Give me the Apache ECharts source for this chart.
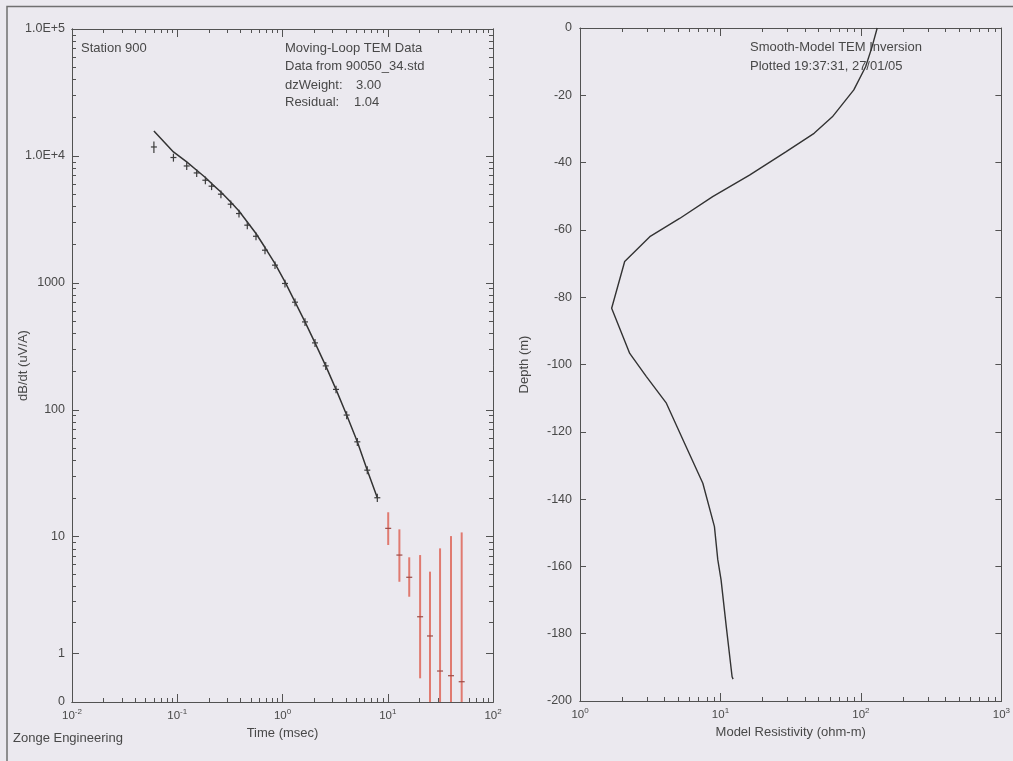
<!DOCTYPE html>
<html>
<head>
<meta charset="utf-8">
<title>Station 900 - TEM data and smooth-model inversion</title>
<script src="https://cdn.jsdelivr.net/npm/echarts@6/dist/echarts.min.js"></script>
<style>
  html, body { margin: 0; padding: 0; background: #ebe9ef; }
  #main { width: 1013px; height: 761px; }
</style>
</head>
<body>
<div id="main"></div>
<script>
// gate times (msec) of the good (black) readings
var obsTime = [0.060, 0.092, 0.123, 0.153, 0.185, 0.212, 0.260, 0.322, 0.386, 0.463, 0.560, 0.682,
               0.849, 1.056, 1.315, 1.636, 2.037, 2.575, 3.224, 4.07, 5.14, 6.39, 7.96];
// observed dB/dt (uV/A) and its error half-width
var obsVal = [11770, 9720, 8340, 7350, 6440, 5780, 5000, 4170, 3520, 2850, 2330, 1810,
              1380, 990, 705, 493, 337, 222, 145, 91, 56, 33.5, 20.3];
var obsErr = [1200, 700, 600, 520, 450, 400, 350, 290, 250, 200, 160, 125,
              95, 70, 50, 35, 24, 16, 10, 6.5, 4, 2.4, 1.5];
// forward response of the model at the same gates
var modelVal = [15730, 10750, 8970, 7720, 6760, 6060, 5200, 4340, 3690, 3020, 2450, 1900,
                1420, 1020, 709, 493, 337, 222, 145, 91, 56, 33.5, 20.3];

// late gates, masked (red)
var badTime = [10.1, 12.9, 16.0, 20.3, 25.2, 31.4, 39.9, 50.4];
var badVal  = [11.64, 7.15, 4.75, 2.24, 1.505, 0.592, 0.495, 0.376];
var badHi   = [15.6, 11.43, 6.86, 7.15, 5.27, 8.08, 10.11, 10.81];
var badLo   = [8.59, 4.37, 3.30, 0.443, 0, 0, 0, 0];

// smooth model: resistivity (ohm-m) vs depth (m)
var modelRes   = [130.6, 120, 108, 89, 62.6, 46.4, 29.2, 16.1, 8.8, 5.12, 3.14, 2.08, 1.68,
                  2.26, 2.97, 4.12, 5.55, 7.49, 9.06, 9.57, 10.1, 11.0, 12.1, 12.3];
var modelDepth = [0, -5.6, -11.5, -18.4, -26.4, -31.3, -36.8, -43.7, -50.1, -56.6, -62.0, -69.4, -83.3,
                  -96.7, -103.6, -111.5, -123.4, -135.3, -148.2, -158, -164, -177.9, -192.8, -193.5];

// amplitude axis ticks (the plot uses a sinh-like axis that reaches 0)
var ampTicks    = [0, 1, 10, 100, 1000, 10000, 100000];
var ampTickText = ['0', '1', '10', '100', '1000', '1.0E+4', '1.0E+5'];

var AX = '#525252';
var TXT = '#484848';
var FONT = 'Liberation Sans';
var NOTE = '13px ' + FONT;

function minorLog(fromExp, toExp) {
  var out = [];
  for (var e = fromExp; e < toExp; e++)
    for (var m = 2; m <= 9; m++) out.push(m * Math.pow(10, e));
  return out;
}
function decades(fromExp, toExp) {
  var out = [];
  for (var e = fromExp; e <= toExp; e++) out.push(Math.pow(10, e));
  return out;
}
function powLabel(v) {
  return '{b|10}{s|' + Math.round(Math.log10(v)) + '}';
}
var sup = {
  b: { fontSize: 11.5, lineHeight: 16, color: TXT, fontFamily: FONT },
  s: { fontSize: 8, lineHeight: 9, verticalAlign: 'top', color: TXT, fontFamily: FONT }
};

function logX(grid, pos, min, max, ticks, len, withLabels, name) {
  return {
    type: 'log', gridIndex: grid, position: pos, min: min, max: max,
    axisLine: { show: true, onZero: false, lineStyle: { color: AX, width: 1 } },
    axisTick: { show: true, inside: true, length: len, customValues: ticks.vals, lineStyle: { color: AX } },
    axisLabel: withLabels ? { show: true, margin: 6, customValues: ticks.vals, formatter: powLabel, rich: sup } : { show: false },
    splitLine: { show: false }, minorTick: { show: false },
    name: name || '', nameLocation: 'middle', nameGap: 25, nameMoveOverlap: false,
    nameTextStyle: { color: TXT, fontSize: 13, fontFamily: FONT }
  };
}

var ampMajor = ampTicks.map(function (v) { return Math.asinh(v); });
var ampMinor = minorLog(0, 5).map(function (v) { return Math.asinh(v); });
function ampLabel(val) {
  for (var i = 0; i < ampMajor.length; i++) if (Math.abs(ampMajor[i] - val) < 1e-6) return ampTickText[i];
  return '';
}
function ampY(pos, vals, len, withLabels, name) {
  return {
    type: 'value', gridIndex: 0, position: pos, min: 0, max: Math.asinh(100000),
    axisLine: { show: true, onZero: false, lineStyle: { color: AX, width: 1 } },
    axisTick: { show: true, inside: true, length: len, customValues: vals, lineStyle: { color: AX } },
    axisLabel: withLabels ? { show: true, margin: 7, customValues: ampMajor, formatter: ampLabel,
                              color: TXT, fontSize: 12.5, fontFamily: FONT } : { show: false },
    splitLine: { show: false },
    name: name || '', nameLocation: 'middle', nameGap: 42, nameMoveOverlap: false,
    nameTextStyle: { color: TXT, fontSize: 13, fontFamily: FONT }
  };
}

function errorBars(color, tickColor, width) {
  return function (params, api) {
    var t = api.value(0);
    var c = api.coord([t, api.value(1)]);
    var hi = api.coord([t, api.value(2)]);
    var lo = api.coord([t, api.value(3)]);
    return {
      type: 'group',
      children: [
        { type: 'line', shape: { x1: c[0], y1: hi[1], x2: c[0], y2: lo[1] },
          style: { stroke: color, lineWidth: width } },
        { type: 'line', shape: { x1: c[0] - 3, y1: c[1], x2: c[0] + 3, y2: c[1] },
          style: { stroke: tickColor, lineWidth: 1.2 } }
      ]
    };
  };
}

var obsData = obsTime.map(function (t, i) {
  return [t, Math.asinh(obsVal[i]), Math.asinh(obsVal[i] + obsErr[i]), Math.asinh(obsVal[i] - obsErr[i])];
});
var badData = badTime.map(function (t, i) {
  return [t, Math.asinh(badVal[i]), Math.asinh(badHi[i]), Math.asinh(badLo[i])];
});
var fitData = obsTime.map(function (t, i) { return [t, Math.asinh(modelVal[i])]; });
var profile = modelRes.map(function (r, i) { return [r, modelDepth[i]]; });

var xMajL = { vals: decades(-2, 2) }, xMinL = { vals: minorLog(-2, 2) };
var xMajR = { vals: decades(0, 3) },  xMinR = { vals: minorLog(0, 3) };

var chart = echarts.init(document.getElementById('main'));
chart.setOption({
  backgroundColor: '#ebe9ef',
  animation: false,
  textStyle: { fontFamily: FONT },
  grid: [
    { left: 72, top: 29, width: 421, height: 673 },
    { left: 580, top: 28, width: 423, height: 673 }
  ],
  xAxis: [
    logX(0, 'bottom', 0.01, 100, xMajL, 8, true, 'Time (msec)'),
    logX(0, 'bottom', 0.01, 100, xMinL, 4, false),
    logX(0, 'top', 0.01, 100, xMajL, 8, false),
    logX(0, 'top', 0.01, 100, xMinL, 4, false),
    logX(1, 'bottom', 1, 1000, xMajR, 8, true, 'Model Resistivity (ohm-m)'),
    logX(1, 'bottom', 1, 1000, xMinR, 4, false),
    logX(1, 'top', 1, 1000, xMajR, 8, false),
    logX(1, 'top', 1, 1000, xMinR, 4, false)
  ],
  yAxis: [
    ampY('left', ampMajor, 7, true, 'dB/dt (uV/A)'),
    ampY('left', ampMinor, 4, false),
    ampY('right', ampMajor, 7, false),
    ampY('right', ampMinor, 4, false),
    {
      type: 'value', gridIndex: 1, position: 'left', min: -200, max: 0, interval: 20,
      axisLine: { show: true, onZero: false, lineStyle: { color: AX } },
      axisTick: { show: true, inside: true, length: 6, lineStyle: { color: AX } },
      axisLabel: { margin: 8, color: TXT, fontSize: 12.5, fontFamily: FONT },
      splitLine: { show: false },
      name: 'Depth (m)', nameLocation: 'middle', nameGap: 49, nameMoveOverlap: false,
      nameTextStyle: { color: TXT, fontSize: 13, fontFamily: FONT }
    },
    {
      type: 'value', gridIndex: 1, position: 'right', min: -200, max: 0, interval: 20,
      axisLine: { show: true, onZero: false, lineStyle: { color: AX } },
      axisTick: { show: true, inside: true, length: 6, lineStyle: { color: AX } },
      axisLabel: { show: false }, splitLine: { show: false }
    }
  ],
  series: [
    { name: 'model response', type: 'line', xAxisIndex: 0, yAxisIndex: 0, data: fitData,
      showSymbol: false, lineStyle: { color: '#333', width: 1.5 }, z: 3 },
    { name: 'observed', type: 'custom', xAxisIndex: 0, yAxisIndex: 0, data: obsData,
      renderItem: errorBars('#3c3c3c', '#3c3c3c', 1.2), encode: { x: 0, y: [1, 2, 3] }, z: 4 },
    { name: 'masked', type: 'custom', xAxisIndex: 0, yAxisIndex: 0, data: badData, clip: true,
      renderItem: errorBars('#e07a70', '#9b4a45', 2), encode: { x: 0, y: [1, 2, 3] }, z: 4 },
    { name: 'resistivity', type: 'line', xAxisIndex: 4, yAxisIndex: 4, data: profile,
      showSymbol: false, lineStyle: { color: '#333', width: 1.4 } }
  ],
  graphic: [
    { type: 'polyline', silent: true, shape: { points: [[7, 761], [7, 6.5], [1013, 6.5]] },
      style: { stroke: '#707070', lineWidth: 1.5, fill: null } },
    { type: 'text', left: 81, top: 42, style: { text: 'Station 900', fill: TXT, font: NOTE } },
    { type: 'text', left: 285, top: 42, style: { text: 'Moving-Loop TEM Data', fill: TXT, font: NOTE } },
    { type: 'text', left: 285, top: 60, style: { text: 'Data from 90050_34.std', fill: TXT, font: NOTE } },
    { type: 'text', left: 285, top: 79, style: { text: 'dzWeight:', fill: TXT, font: NOTE } },
    { type: 'text', left: 356, top: 79, style: { text: '3.00', fill: TXT, font: NOTE } },
    { type: 'text', left: 285, top: 96, style: { text: 'Residual:', fill: TXT, font: NOTE } },
    { type: 'text', left: 354, top: 96, style: { text: '1.04', fill: TXT, font: NOTE } },
    { type: 'text', left: 750, top: 41, style: { text: 'Smooth-Model TEM Inversion', fill: TXT, font: NOTE } },
    { type: 'text', left: 750, top: 60, style: { text: 'Plotted 19:37:31, 27/01/05', fill: TXT, font: NOTE } },
    { type: 'text', left: 13, top: 732, style: { text: 'Zonge Engineering', fill: TXT, font: NOTE } }
  ]
});
</script>
</body>
</html>
